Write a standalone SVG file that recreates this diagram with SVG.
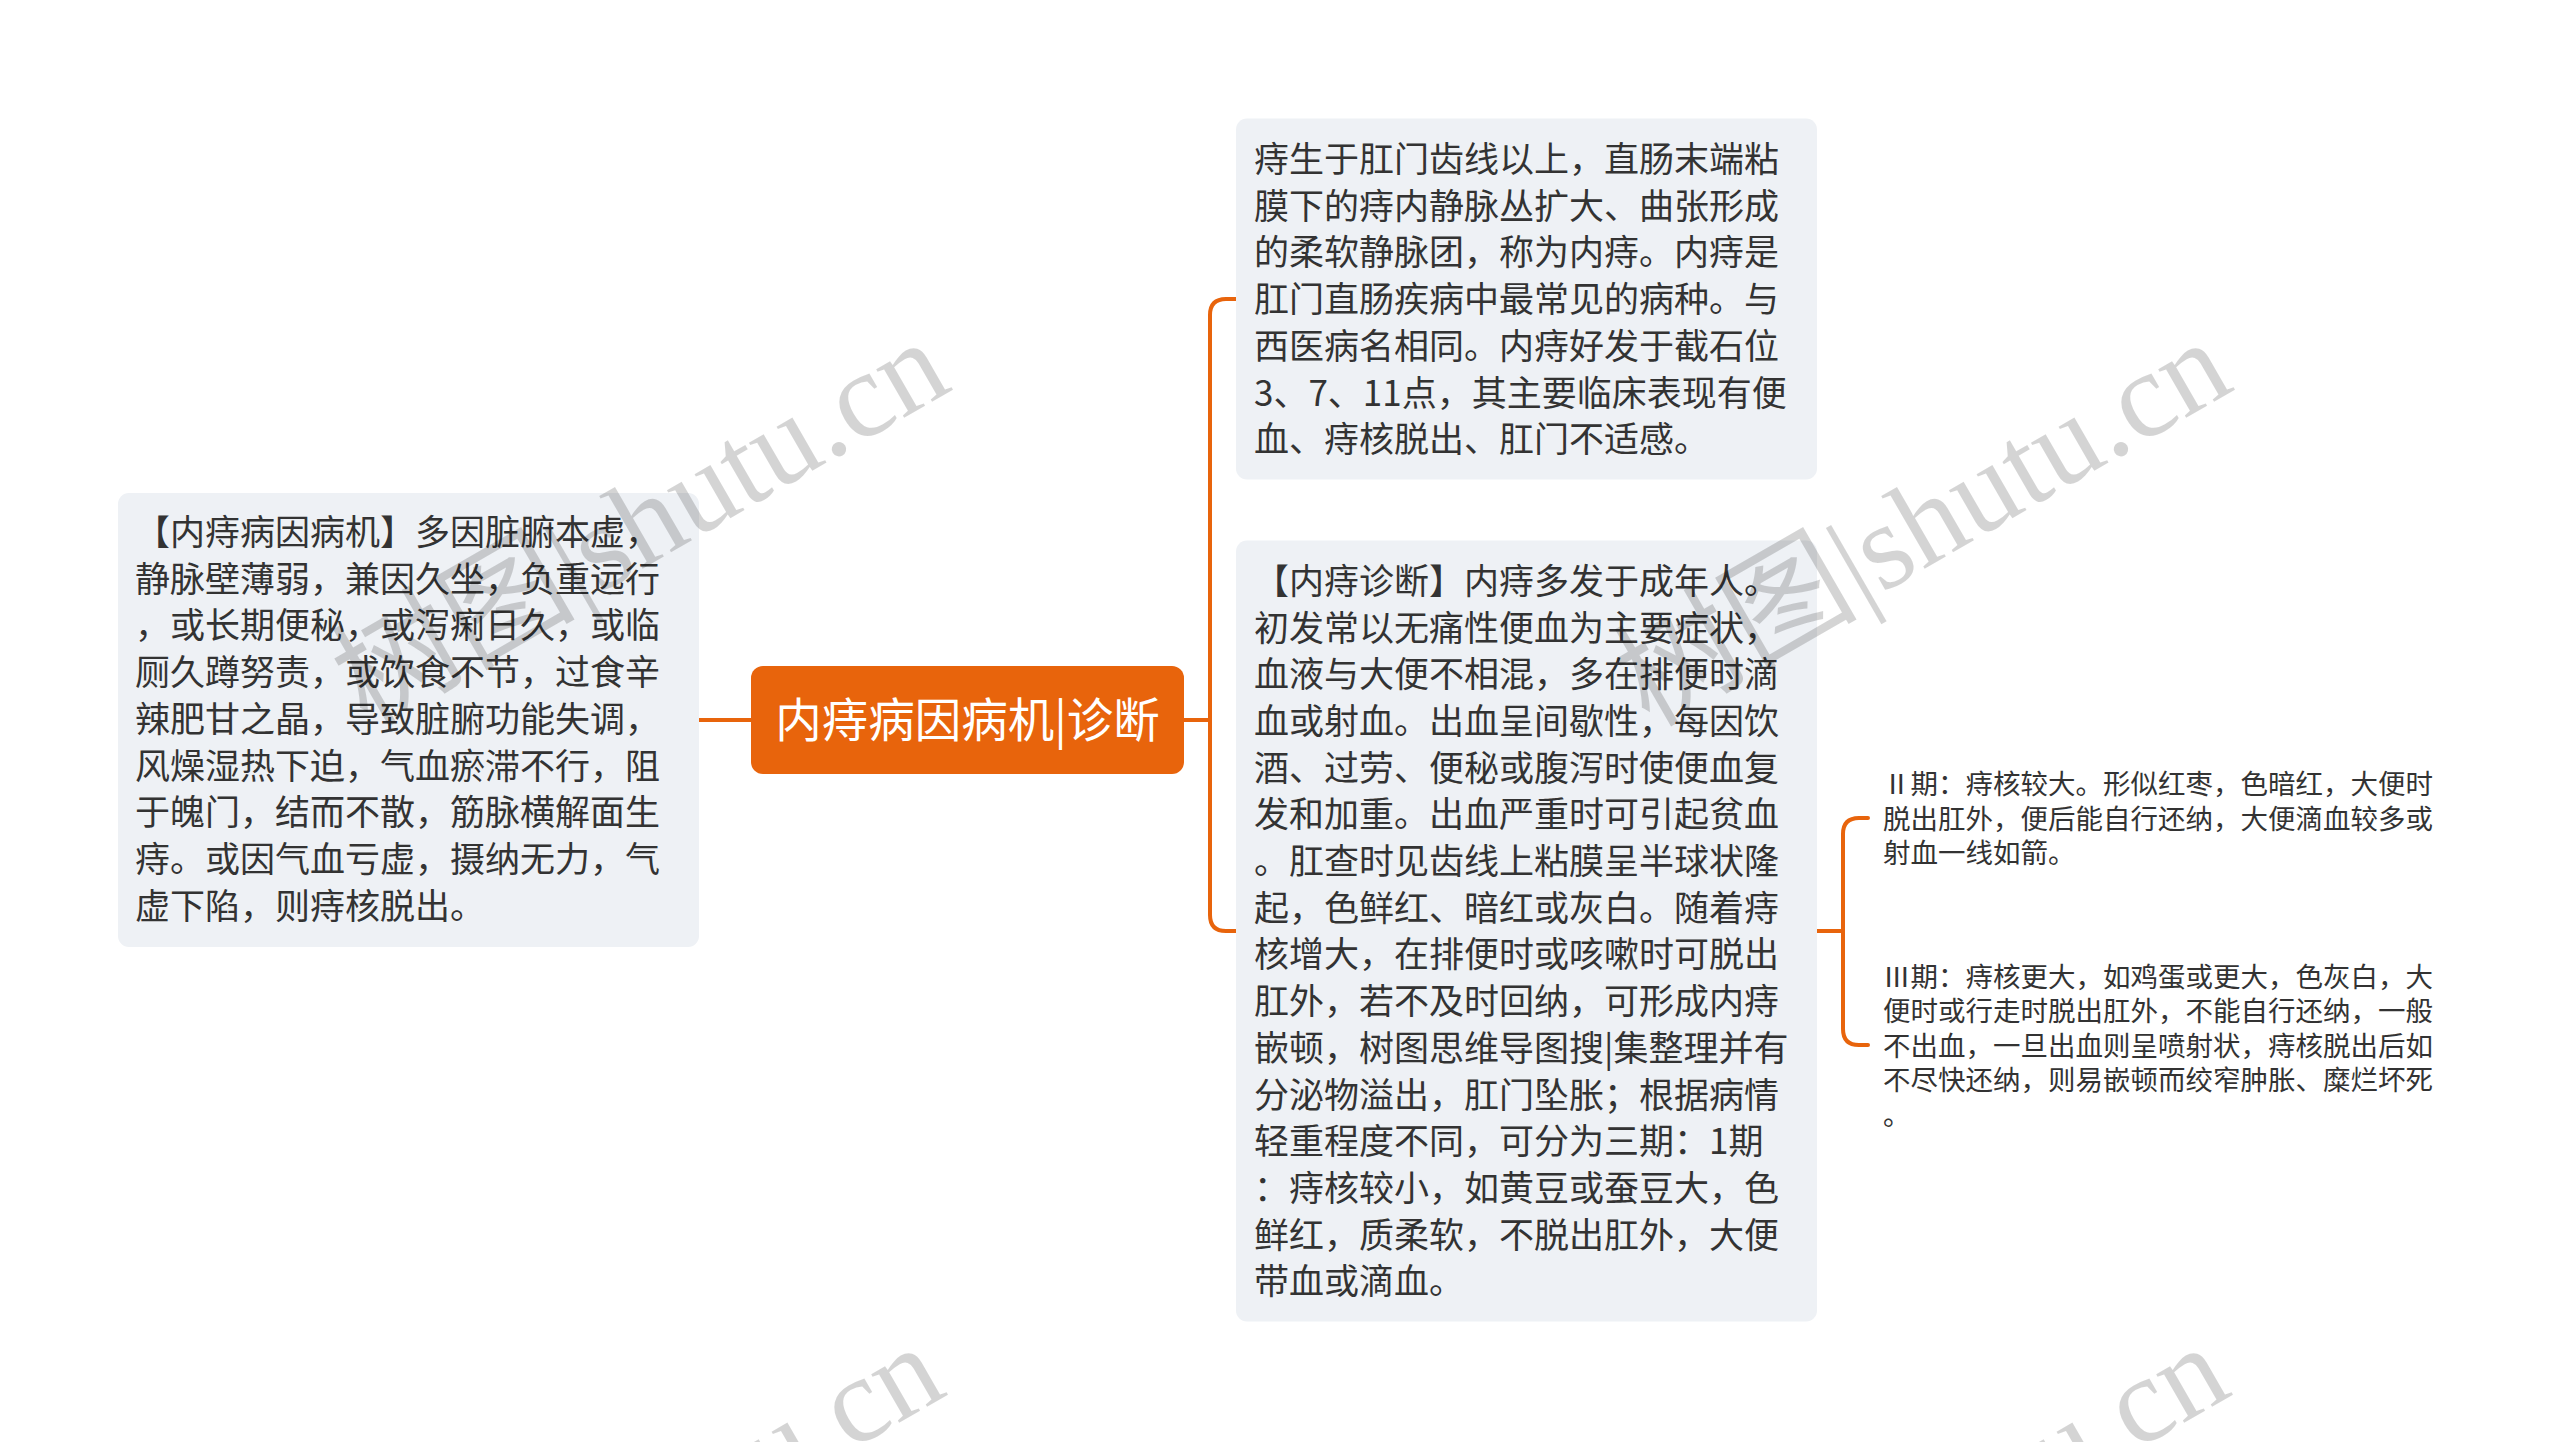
<svg xmlns="http://www.w3.org/2000/svg" width="2560" height="1442" viewBox="0 0 2560 1442">
<style>
.box{fill:#EEF1F5;}
.t{font-family:"Noto Sans CJK SC","Noto Sans",sans-serif;font-size:35px;fill:#333333;}
.s{font-family:"Noto Sans CJK SC","Noto Sans",sans-serif;font-size:27.5px;fill:#333333;}
.c{font-family:"Noto Sans CJK SC","Noto Sans",sans-serif;font-size:46.5px;fill:#FFFFFF;}
.ln{fill:none;stroke:#E8640C;stroke-width:4;stroke-linecap:round;stroke-linejoin:round;}
.wm{font-family:"Liberation Serif","Noto Sans CJK SC",serif;font-size:122px;fill:#000000;fill-opacity:0.17;}
</style>
<rect width="2560" height="1442" fill="#FFFFFF"/>
<g id="connectors">
  <path class="ln" d="M699 720 H751"/>
  <path class="ln" d="M1184 720 H1210"/>
  <path class="ln" d="M1236 299 H1226 Q1210 299 1210 315 V915 Q1210 931 1226 931 H1236"/>
  <path class="ln" d="M1817 931 H1843"/>
  <path class="ln" d="M1868 818 H1859 Q1843 818 1843 834 V1029 Q1843 1045 1859 1045 H1868"/>
</g>
<g id="root">
  <rect x="751" y="666" width="433" height="108" rx="12" fill="#E8640C"/>
  <text class="c" x="967.5" y="737" text-anchor="middle">内痔病因病机|诊断</text>
</g>
<g id="node-cause">
  <rect class="box" x="118" y="493" width="581" height="454" rx="11"/>
  <text class="t" x="135">
    <tspan x="135" y="545">【内痔病因病机】多因脏腑本虚，</tspan>
    <tspan x="135" y="591.7">静脉壁薄弱，兼因久坐，负重远行</tspan>
    <tspan x="135" y="638.4">，或长期便秘，或泻痢日久，或临</tspan>
    <tspan x="135" y="685.1">厕久蹲努责，或饮食不节，过食辛</tspan>
    <tspan x="135" y="731.8">辣肥甘之晶，导致脏腑功能失调，</tspan>
    <tspan x="135" y="778.5">风燥湿热下迫，气血瘀滞不行，阻</tspan>
    <tspan x="135" y="825.2">于魄门，结而不散，筋脉横解面生</tspan>
    <tspan x="135" y="871.9">痔。或因气血亏虚，摄纳无力，气</tspan>
    <tspan x="135" y="918.6">虚下陷，则痔核脱出。</tspan>
  </text>
</g>
<g id="node-def">
  <rect class="box" x="1236" y="118.5" width="581" height="361" rx="11"/>
  <text class="t" x="1254">
    <tspan x="1254" y="172">痔生于肛门齿线以上，直肠末端粘</tspan>
    <tspan x="1254" y="218.7">膜下的痔内静脉丛扩大、曲张形成</tspan>
    <tspan x="1254" y="265.4">的柔软静脉团，称为内痔。内痔是</tspan>
    <tspan x="1254" y="312.1">肛门直肠疾病中最常见的病种。与</tspan>
    <tspan x="1254" y="358.8">西医病名相同。内痔好发于截石位</tspan>
    <tspan x="1254" y="405.5">3、7、11点，其主要临床表现有便</tspan>
    <tspan x="1254" y="452.2">血、痔核脱出、肛门不适感。</tspan>
  </text>
</g>
<g id="node-diag">
  <rect class="box" x="1236" y="540.5" width="581" height="781" rx="11"/>
  <text class="t" x="1254">
    <tspan x="1254" y="593.8">【内痔诊断】内痔多发于成年人。</tspan>
    <tspan x="1254" y="640.5">初发常以无痛性便血为主要症状，</tspan>
    <tspan x="1254" y="687.2">血液与大便不相混，多在排便时滴</tspan>
    <tspan x="1254" y="733.9">血或射血。出血呈间歇性，每因饮</tspan>
    <tspan x="1254" y="780.6">酒、过劳、便秘或腹泻时使便血复</tspan>
    <tspan x="1254" y="827.3">发和加重。出血严重时可引起贫血</tspan>
    <tspan x="1254" y="874">。肛查时见齿线上粘膜呈半球状隆</tspan>
    <tspan x="1254" y="920.7">起，色鲜红、暗红或灰白。随着痔</tspan>
    <tspan x="1254" y="967.4">核增大，在排便时或咳嗽时可脱出</tspan>
    <tspan x="1254" y="1014.1">肛外，若不及时回纳，可形成内痔</tspan>
    <tspan x="1254" y="1060.8">嵌顿，树图思维导图搜|集整理并有</tspan>
    <tspan x="1254" y="1107.5">分泌物溢出，肛门坠胀；根据病情</tspan>
    <tspan x="1254" y="1154.2">轻重程度不同，可分为三期：1期</tspan>
    <tspan x="1254" y="1200.9">：痔核较小，如黄豆或蚕豆大，色</tspan>
    <tspan x="1254" y="1247.6">鲜红，质柔软，不脱出肛外，大便</tspan>
    <tspan x="1254" y="1294.3">带血或滴血。</tspan>
  </text>
</g>
<g id="node-stage2">
  <text class="s" x="1883">
    <tspan x="1883" y="794">Ⅱ期：痔核较大。形似红枣，色暗红，大便时</tspan>
    <tspan x="1883" y="828.5">脱出肛外，便后能自行还纳，大便滴血较多或</tspan>
    <tspan x="1883" y="863">射血一线如箭。</tspan>
  </text>
</g>
<g id="node-stage3">
  <text class="s" x="1883">
    <tspan x="1883" y="986.5">Ⅲ期：痔核更大，如鸡蛋或更大，色灰白，大</tspan>
    <tspan x="1883" y="1021">便时或行走时脱出肛外，不能自行还纳，一般</tspan>
    <tspan x="1883" y="1055.5">不出血，一旦出血则呈喷射状，痔核脱出后如</tspan>
    <tspan x="1883" y="1090">不尽快还纳，则易嵌顿而绞窄肿胀、糜烂坏死</tspan>
    <tspan x="1883" y="1124.5">。</tspan>
  </text>
</g>
<g id="watermarks">
  <text class="wm" transform="translate(367 728) rotate(-30)">树图|shutu.cn</text>
  <text class="wm" transform="translate(1649 728) rotate(-30)">树图|shutu.cn</text>
  <text class="wm" transform="translate(362 1733) rotate(-30)">树图|shutu.cn</text>
  <text class="wm" transform="translate(1647 1733) rotate(-30)">树图|shutu.cn</text>
</g>
</svg>
